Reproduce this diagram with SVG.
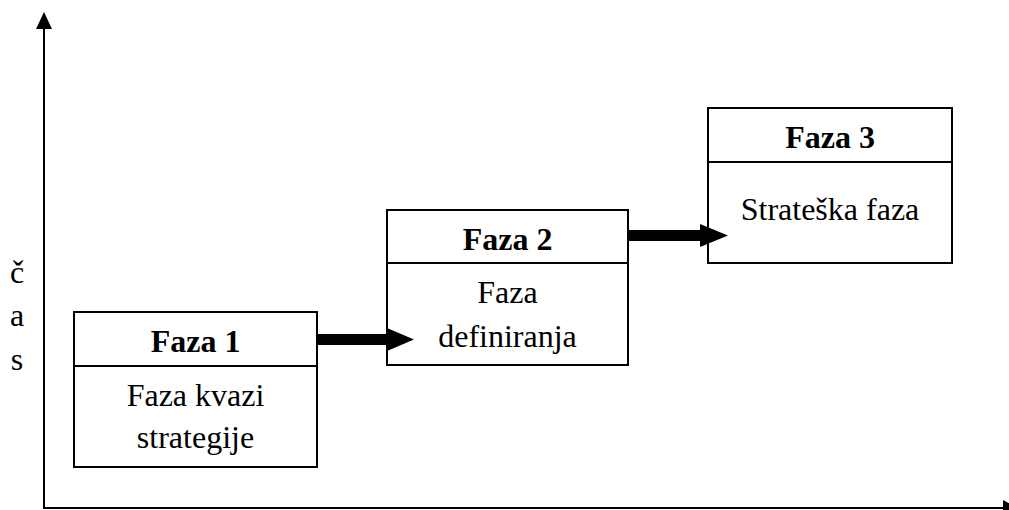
<svg xmlns="http://www.w3.org/2000/svg" width="1009" height="510" viewBox="0 0 1009 510">
  <style>
    .box { fill: #fff; stroke: #000; stroke-width: 2; }
    .div { stroke: #000; stroke-width: 2; }
    .axis { stroke: #000; stroke-width: 2; fill: none; }
    .title { font-family: "Liberation Serif", "Times New Roman", serif; font-size: 32px; font-weight: bold; text-anchor: middle; fill: #000; }
    .body { font-family: "Liberation Serif", "Times New Roman", serif; font-size: 32px; text-anchor: middle; fill: #000; }
    .arrow { fill: #000; }
  </style>

  <!-- time axis -->
  <g id="axes">
    <line class="axis" x1="44" y1="508" x2="44" y2="26"/>
    <polygon class="arrow" points="44,12 36,29 52,29"/>
    <line class="axis" x1="43" y1="508" x2="1004" y2="508"/>
    <polygon class="arrow" points="1003,500 1018,508 1003,516"/>
    <text class="body" x="17" y="283">č</text>
    <text class="body" x="17" y="326">a</text>
    <text class="body" x="17" y="370">s</text>
  </g>

  <g id="faza1">
    <rect class="box" x="74" y="312" width="243" height="155"/>
    <line class="div" x1="74" y1="366" x2="317" y2="366"/>
    <text class="title" x="195.5" y="352">Faza 1</text>
    <text class="body" x="195.5" y="406">Faza kvazi</text>
    <text class="body" x="195.5" y="448">strategije</text>
  </g>

  <g id="faza2">
    <rect class="box" x="387" y="210" width="241" height="155"/>
    <line class="div" x1="387" y1="263" x2="628" y2="263"/>
    <text class="title" x="507.5" y="250">Faza 2</text>
    <text class="body" x="507.5" y="303">Faza</text>
    <text class="body" x="507.5" y="347">definiranja</text>
  </g>

  <g id="faza3">
    <rect class="box" x="708" y="108" width="244" height="155"/>
    <line class="div" x1="708" y1="162" x2="952" y2="162"/>
    <text class="title" x="830" y="148">Faza 3</text>
    <text class="body" x="830" y="220">Strateška faza</text>
  </g>

  <g id="connectors">
    <polygon class="arrow" points="317,334 387,334 387,328 414,339.5 387,351 387,345 317,345"/>
    <polygon class="arrow" points="628,230 700,230 700,224 728,235.5 700,247 700,241 628,241"/>
  </g>
</svg>
